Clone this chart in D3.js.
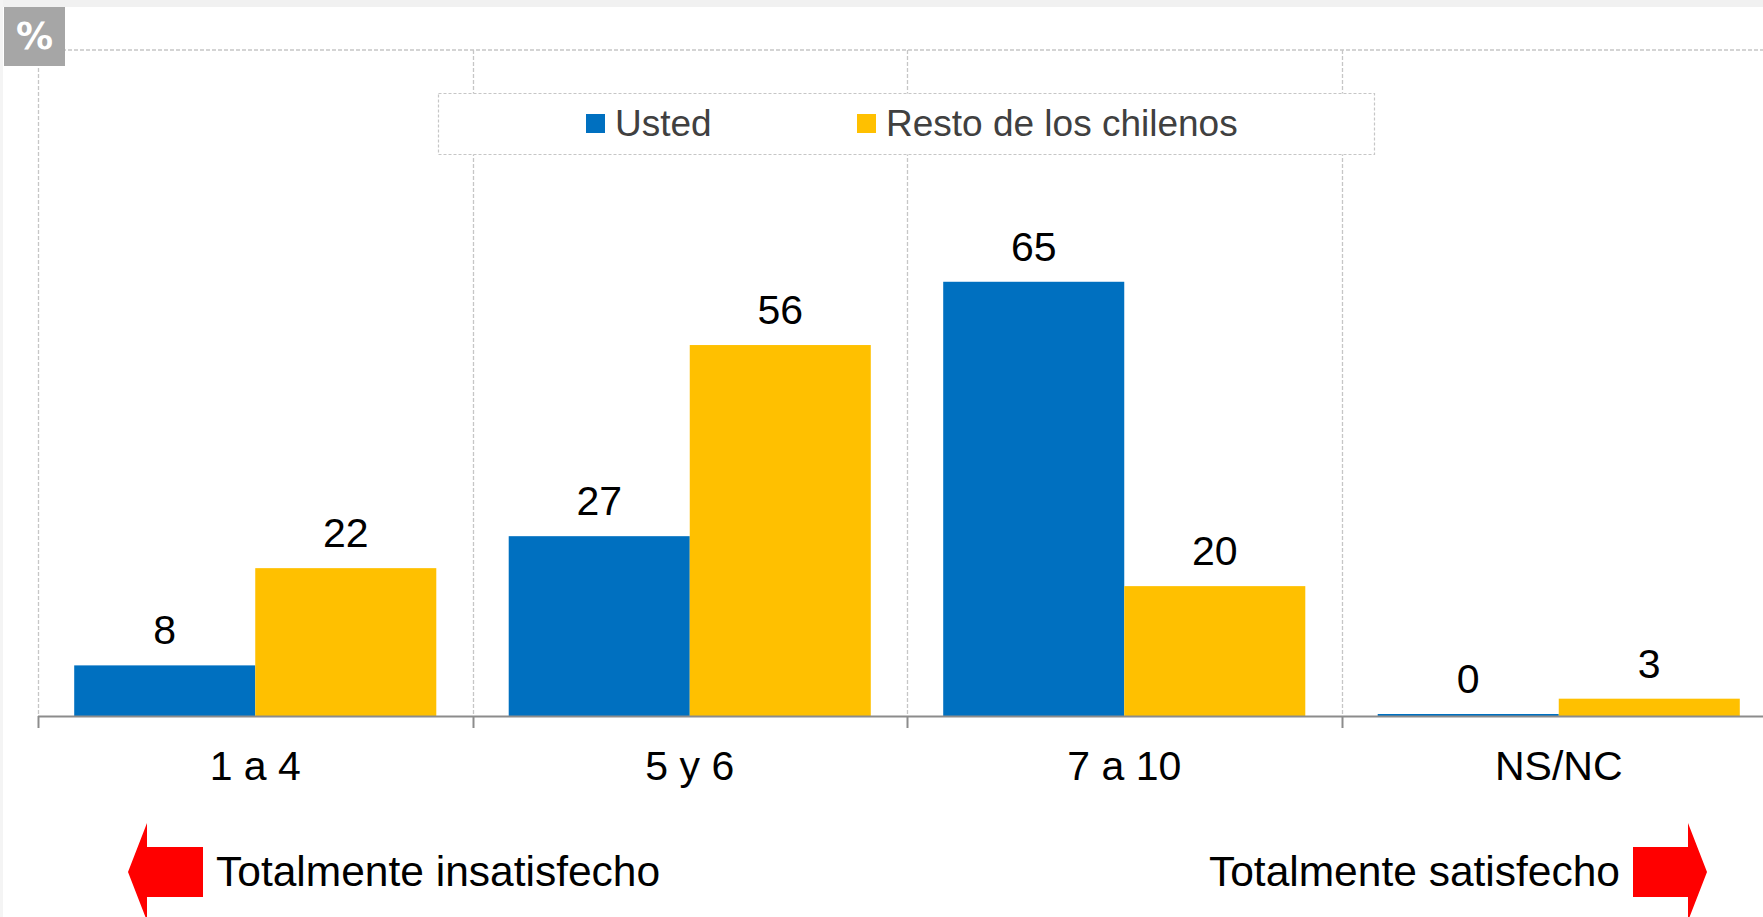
<!DOCTYPE html>
<html><head><meta charset="utf-8">
<script src="https://cdn.jsdelivr.net/npm/d3@7"></script>
<style>html,body{margin:0;padding:0;background:#fff;}svg{display:block;}text{font-family:"Liberation Sans",Arial,sans-serif;}</style>
</head><body>
<svg id="chart" width="1763" height="917"></svg>
<script>
const categories = ["1 a 4", "5 y 6", "7 a 10", "NS/NC"];
const seriesNames = ["Usted", "Resto de los chilenos"];
const usted = [7.6, 27.0, 65.2, 0.3];
const resto = [22.2, 55.7, 19.5, 2.6];
const colors = ["#0070c0", "#ffc000"];
const yDomain = [0, 100];
const leftNote = "Totalmente insatisfecho";
const rightNote = "Totalmente satisfecho";
const unitLabel = "%";

const svg = d3.select("#chart");
const W = 1763, H = 917;
const plot = {left: 38, right: 1776, top: 50, bottom: 716};

// frame strips
svg.append("rect").attr("x",0).attr("y",0).attr("width",W).attr("height",7).attr("fill","#f1f1f1");
svg.append("rect").attr("x",0).attr("y",0).attr("width",3).attr("height",H).attr("fill","#f4f4f4");

const x0 = d3.scaleBand().domain(categories).range([plot.left, plot.right]).paddingInner(0).paddingOuter(0);
const x1 = d3.scaleBand().domain(seriesNames).range([0, x0.bandwidth()]).paddingInner(0).paddingOuter(0.2);
const y = d3.scaleLinear().domain(yDomain).range([plot.bottom, plot.top]);
const color = d3.scaleOrdinal().domain(seriesNames).range(colors);

const grid = svg.append("g");
const dash = "4,2", gridCol = "#c6c6c6";
grid.append("line").attr("x1", plot.left).attr("x2", W).attr("y1", y(100)).attr("y2", y(100))
  .attr("stroke", gridCol).attr("stroke-width",1.3).attr("stroke-dasharray", dash);
categories.forEach(c => {
  const xx = Math.round(x0(c)) + 0.5;
  grid.append("line").attr("x1", xx).attr("x2", xx).attr("y1", y(100)).attr("y2", plot.bottom)
    .attr("stroke", gridCol).attr("stroke-width",1.3).attr("stroke-dasharray", dash);
});

// legend
const lg = svg.append("g");
lg.append("rect").attr("x",438.5).attr("y",93.5).attr("width",936).attr("height",61)
  .attr("fill","#fff").attr("stroke","#c6c6c6").attr("stroke-width",1.2).attr("stroke-dasharray","3,2");
const legendX = [586, 857];
seriesNames.forEach((s,i) => {
  lg.append("rect").attr("x", legendX[i]).attr("y",114).attr("width",19).attr("height",19).attr("fill", color(s));
  lg.append("text").attr("x", legendX[i]+29).attr("y",136).attr("font-size",37).attr("fill","#404040").text(s);
});

// bars
const rows = categories.map((c,i) => ({cat:c, vals:[{s:seriesNames[0], v:usted[i]},{s:seriesNames[1], v:resto[i]}]}));
const fmt = d3.format(".0f");
const gBars = svg.append("g").selectAll("g").data(rows).join("g")
  .attr("transform", d => `translate(${x0(d.cat)},0)`);
gBars.selectAll("rect").data(d => d.vals).join("rect")
  .attr("x", d => x1(d.s)).attr("width", x1.bandwidth())
  .attr("y", d => y(d.v)).attr("height", d => plot.bottom - y(d.v))
  .attr("fill", d => color(d.s));
gBars.selectAll("text").data(d => d.vals).join("text")
  .attr("x", d => x1(d.s) + x1.bandwidth()/2).attr("y", d => y(d.v) - 21)
  .attr("text-anchor","middle").attr("font-size",41).attr("fill","#000")
  .text(d => fmt(d.v));

// axis
const axis = svg.append("g");
axis.append("line").attr("x1", plot.left).attr("x2", W).attr("y1", plot.bottom+0.5).attr("y2", plot.bottom+0.5)
  .attr("stroke","#8c8c8c").attr("stroke-width",2);
categories.forEach(c => {
  const xx = Math.round(x0(c)) + 0.5;
  axis.append("line").attr("x1", xx).attr("x2", xx).attr("y1", plot.bottom).attr("y2", plot.bottom+12)
    .attr("stroke","#8c8c8c").attr("stroke-width",2);
});
const xAxis = d3.axisBottom(x0).tickSize(0).tickPadding(0);
const ax = svg.append("g").attr("transform", `translate(0,${plot.bottom})`).call(xAxis);
ax.select(".domain").remove();
ax.selectAll("text").attr("font-size",41).attr("fill","#000").attr("dy",null).attr("y",64)
  .attr("font-family",'"Liberation Sans",Arial,sans-serif');

// % box
svg.append("rect").attr("x",4).attr("y",7).attr("width",61).attr("height",59).attr("fill","#a6a6a6");
svg.append("text").attr("x",34.5).attr("y",49).attr("text-anchor","middle").attr("font-size",37)
  .attr("font-weight","bold").attr("fill","#fff").style("font-family","'DejaVu Sans',sans-serif").text(unitLabel);

// arrows
const cy = 872;
const leftArrow = [[128,cy],[147,cy-49],[147,cy-25],[203,cy-25],[203,cy+25],[147,cy+25],[147,cy+49]];
const rightArrow = [[1707,cy],[1688,cy-49],[1688,cy-25],[1633,cy-25],[1633,cy+25],[1688,cy+25],[1688,cy+49]];
[leftArrow,rightArrow].forEach(p => svg.append("path").attr("d", d3.line()(p) + "Z").attr("fill","#ff0000"));
svg.append("text").attr("x",216).attr("y",886).attr("font-size",42.5).attr("fill","#000").text(leftNote);
svg.append("text").attr("x",1620).attr("y",886).attr("text-anchor","end").attr("font-size",42.5).attr("fill","#000").text(rightNote);
</script>
</body></html>
